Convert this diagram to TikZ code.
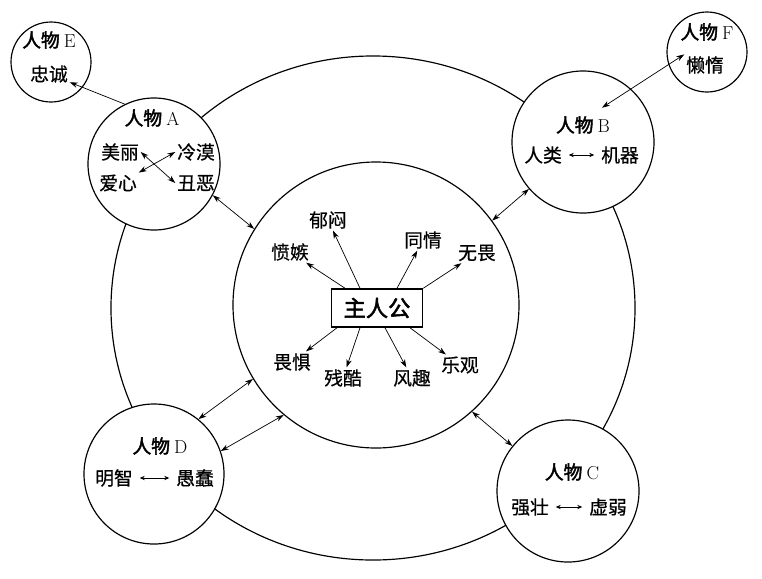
\documentclass[tikz,border=0pt]{standalone}
\usepackage{fontspec}
\newfontfamily\cjk{Noto Sans CJK SC}[FakeBold=0.6]
\newfontfamily\cjkbold{Noto Sans CJK SC}[FakeBold=2.2]
\usetikzlibrary{positioning, calc, shapes.geometric, arrows.meta}

\begin{document}
\begin{tikzpicture}[x=0.03cm, y=-0.03cm,
  ring/.style={draw, circle, fill=white, line width=1pt, inner sep=0pt},
  word/.style={font=\cjk\fontsize{16pt}{18pt}\selectfont, inner sep=1.5pt},
  ray/.style={line width=0.6pt, -{Stealth[length=2.4mm,width=1.6mm]}},
  link/.style={line width=0.6pt, {Stealth[length=2.4mm,width=1.6mm]}-{Stealth[length=2.4mm,width=1.6mm]}},
  pair/.style={line width=0.8pt, shorten <=0.15cm, shorten >=0.15cm,
    {Stealth[length=1.5mm,width=1.3mm]}-{Stealth[length=1.5mm,width=1.3mm]}}]
  \useasboundingbox (0,0) rectangle (762,578);

  % outer world and inner circle
  \node[draw, ellipse, line width=1pt, minimum width=15.72cm, minimum height=15.12cm] (world) at (373,308) {};
  \node[ring, minimum size=8.58cm] (inner) at (376,305) {};
  \node[draw, line width=1.3pt, minimum width=2.73cm, minimum height=1.14cm, inner sep=0pt,
    font=\cjkbold\fontsize{19pt}{22pt}\selectfont] (hero) at (377,308) {主人公};

  % persons
  \node[ring, minimum size=2.4cm] (E) at (51,62) {};
  \node[ring, minimum size=3.96cm] (A) at (154,164) {};
  \node[ring, minimum size=4.26cm] (B) at (583,142) {};
  \node[ring, minimum size=2.4cm] (F) at (707,52) {};
  \node[ring, minimum size=4.2cm] (D) at (154,474) {};
  \node[ring, minimum size=4.26cm] (C) at (568,491) {};

  \node[word] (nameE) at (49,40) {{\cjkbold 人物} \textrm{E}};
  \node[word] (loyal) at (49,74) {忠诚};
  \node[word] (nameA) at (152,118) {{\cjkbold 人物} \textrm{A}};
  \node[word] (beauty) at (120,152) {美丽};
  \node[word] (cold) at (196,152) {冷漠};
  \node[word] (love) at (118,183) {爱心};
  \node[word] (ugly) at (196,183) {丑恶};
  \node[word] (nameB) at (583,125) {{\cjkbold 人物} \textrm{B}};
  \node[word] (human) at (543,155) {人类};
  \node[word] (machine) at (620,155) {机器};
  \node[word] (nameF) at (707,32) {{\cjkbold 人物} \textrm{F}};
  \node[word] (lazy) at (705,65) {懒惰};
  \node[word] (nameD) at (160,446) {{\cjkbold 人物} \textrm{D}};
  \node[word] (wise) at (114,478) {明智};
  \node[word] (stupid) at (195,478) {愚蠢};
  \node[word] (nameC) at (572,472) {{\cjkbold 人物} \textrm{C}};
  \node[word] (strong) at (530,507) {强壮};
  \node[word] (weak) at (608,507) {虚弱};

  % feelings of the hero
  \node[word] (gloom) at (328,220) {郁闷};
  \node[word] (anger) at (290,252) {愤嫉};
  \node[word] (pity) at (423,240) {同情};
  \node[word] (brave) at (477,253) {无畏};
  \node[word] (fear) at (292,362) {畏惧};
  \node[word] (cruel) at (343,378) {残酷};
  \node[word] (humor) at (412,378) {风趣};
  \node[word] (hope) at (460,365) {乐观};

  \draw[ray] ([xshift=-0.51cm]hero.north) -- (gloom);
  \draw[ray] ([xshift=-0.96cm]hero.north) -- (anger);
  \draw[ray] ([xshift=0.6cm]hero.north) -- (pity);
  \draw[ray] (hero.north east) -- (brave);
  \draw[ray] ([xshift=-1.2cm]hero.south) -- (fear);
  \draw[ray] ([xshift=-0.51cm]hero.south) -- (cruel);
  \draw[ray] ([xshift=0.24cm]hero.south) -- (humor);
  \draw[ray] ([xshift=0.99cm]hero.south) -- (hope);

  % relations
  \draw[ray] (A.116) -- (loyal);
  \draw[link] ([xshift=-0.3cm,yshift=0.2cm]nameB.north east) -- (lazy.north west);
  \draw[link] (A.-28) -- (inner.148);
  \draw[link] (B.221) -- (inner.36);
  \draw[link] (C.141) -- (inner.-48);
  \draw[link] (D.51) -- (inner.211);
  \draw[link] (D.19) -- (inner.230);

  \draw[link] (beauty.east) -- (ugly.west);
  \draw[link] (love.north east) -- (cold.west);
  \draw[pair] (human) -- (machine);
  \draw[pair] (wise) -- (stupid);
  \draw[pair] (strong) -- (weak);
\end{tikzpicture}
\end{document}
